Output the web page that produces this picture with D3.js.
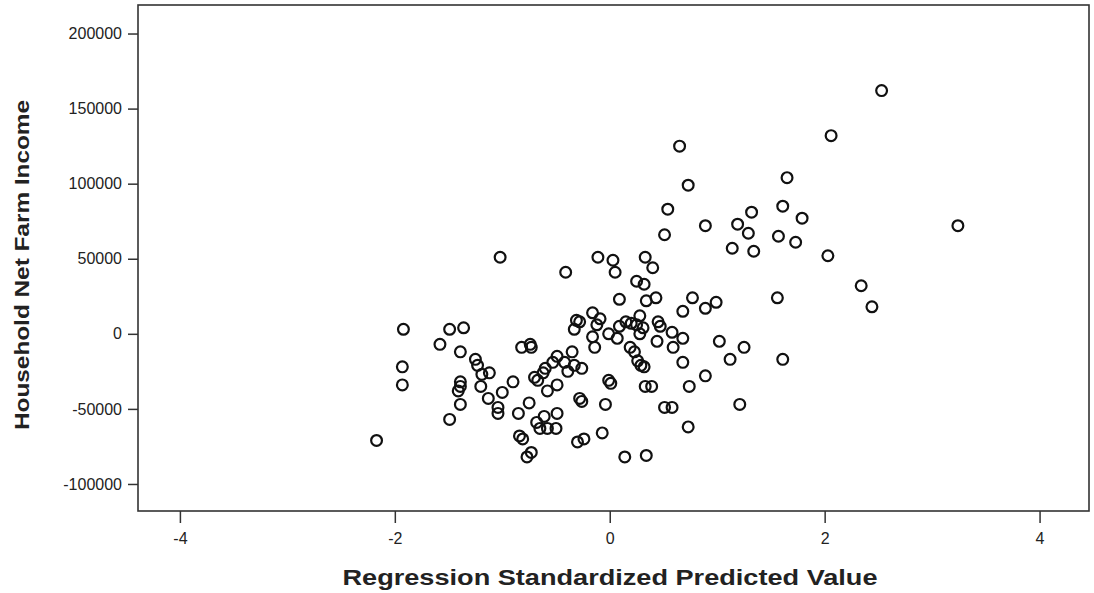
<!DOCTYPE html>
<html lang="en">
<head>
<meta charset="UTF-8">
<title>Scatter</title>
<style>
    body { margin:0; background:#fff; }
    #CHART { display:block; }
    .axis text { font-family: "Liberation Sans", Arial, sans-serif; fill:#222; }
    .axis line { stroke:#333; stroke-width:1.5px; }
    .axis path { display:none; }
    .title { font-family: "Liberation Sans", Arial, sans-serif; font-weight:bold; fill:#222; }
</style>
</head>
<body>
<svg id="CHART" width="1094" height="593"></svg>

<script src="https://cdnjs.cloudflare.com/ajax/libs/d3/7.8.5/d3.min.js"></script>
<script>
    // regression standardized predicted value (x) and household net farm income (y)
    var predicted = [
        -2.17, -1.92, -1.93, -1.93, -1.58, -1.49, -1.36, -1.39, -1.49, -1.39,
        -1.39, -1.39, -1.41, -1.25, -1.23, -1.19, -1.12, -1.20, -1.13, -1.00,
        -1.04, -1.04, -0.90, -1.02, -0.82, -0.74, -0.73, -0.70, -0.62, -0.67,
        -0.60, -0.53, -0.49, -0.42, -0.35, -0.39, -0.33, -0.26, -0.49, -0.58,
        -0.75, -0.85, -0.49, -0.61, -0.68, -0.65, -0.58, -0.50, -0.84, -0.81,
        -0.77, -0.73, -0.41, -0.11, 0.03, 0.05, 0.09, -0.31, -0.28, -0.33,
        -0.16, -0.09, -0.12, -0.16, -0.14, -0.01, 0.09, 0.15, 0.07, 0.19,
        0.23, 0.26, 0.29, 0.32, 0.20, 0.28, 0.25, 0.31, 0.28, 0.45,
        0.47, 0.44, 0.58, 0.59, 0.68, 0.68, 0.74, 0.73, -0.01, 0.01,
        -0.28, -0.26, -0.04, 0.33, 0.39, 0.51, 0.58, -0.07, -0.30, -0.24,
        0.14, 0.34, 0.33, 0.40, 0.25, 0.32, 0.34, 0.43, 0.77, 0.68,
        0.51, 0.54, 0.65, 0.73, 0.89, 1.19, 1.29, 1.14, 1.34, 1.32,
        1.61, 1.79, 1.57, 1.73, 2.03, 2.06, 1.65, 0.99, 0.89, 1.56,
        1.02, 1.25, 1.12, 1.61, 0.89, 1.21, 2.53, 3.24, 2.34, 2.44
    ];
    var income = [
        -71000, 3000, -22000, -34000, -7000, 3000, 4000, -12000, -57000, -47000,
        -32000, -35000, -38000, -17000, -21000, -27000, -26000, -35000, -43000, -39000,
        -49000, -53000, -32000, 51000, -9000, -7000, -9000, -29000, -26000, -31000,
        -23000, -19000, -15000, -19000, -12000, -25000, -21000, -23000, -34000, -38000,
        -46000, -53000, -53000, -55000, -59000, -63000, -63000, -63000, -68000, -70000,
        -82000, -79000, 41000, 51000, 49000, 41000, 23000, 9000, 8000, 3000,
        14000, 10000, 6000, -2000, -9000, 0, 5000, 8000, -3000, -9000,
        -12000, -18000, -21000, -22000, 7000, 12000, 6000, 4000, 0, 8000,
        5000, -5000, 1000, -9000, -3000, -19000, -35000, -62000, -31000, -33000,
        -43000, -45000, -47000, -35000, -35000, -49000, -49000, -66000, -72000, -70000,
        -82000, -81000, 51000, 44000, 35000, 33000, 22000, 24000, 24000, 15000,
        66000, 83000, 125000, 99000, 72000, 73000, 67000, 57000, 55000, 81000,
        85000, 77000, 65000, 61000, 52000, 132000, 104000, 21000, 17000, 24000,
        -5000, -9000, -17000, -17000, -28000, -47000, 162000, 72000, 32000, 18000
    ];

    var xTicks = [-4, -2, 0, 2, 4];
    var yTicks = [-100000, -50000, 0, 50000, 100000, 150000, 200000];

    var xTitle = "Regression Standardized Predicted Value";
    var yTitle = "Household Net Farm Income";

    var chart = {
        left: 138, right: 1089, top: 5, bottom: 511,

        draw: function(){
            var self = this;
            var points = predicted.map(function(d, i){
                return { x: d, y: income[i] };
            });

            var svg = d3.select("#CHART");

            var x = d3.scaleLinear()
                      .domain([-4.39, 4.46])
                      .range([self.left, self.right]);
            var y = d3.scaleLinear()
                      .domain([-118000, 219000])
                      .range([self.bottom, self.top]);

            // plot frame
            svg.append("rect")
                .attr("x", self.left)
                .attr("y", self.top)
                .attr("width", self.right - self.left)
                .attr("height", self.bottom - self.top)
                .attr("fill", "none")
                .attr("stroke", "#333")
                .attr("stroke-width", 1.6);

            var yAxis = svg.append("g")
                .attr("class", "axis y-axis")
                .attr("transform", "translate(" + self.left + ",0)")
                .call(d3.axisLeft(y)
                        .tickValues(yTicks)
                        .tickSize(10)
                        .tickPadding(6)
                        .tickFormat(function(d){ return String(d); }));
            yAxis.selectAll("text").style("font-size", "16px");

            var xAxis = svg.append("g")
                .attr("class", "axis x-axis")
                .attr("transform", "translate(0," + self.bottom + ")")
                .call(d3.axisBottom(x)
                        .tickValues(xTicks)
                        .tickSize(12)
                        .tickPadding(10)
                        .tickFormat(function(d){ return String(d); }));
            xAxis.selectAll("text").style("font-size", "16px");

            // markers
            svg.append("g")
                .selectAll("circle")
                .data(points)
                .join("circle")
                    .attr("cx", function(d){ return x(d.x); })
                    .attr("cy", function(d){ return y(d.y); })
                    .attr("r", 5.4)
                    .attr("fill", "none")
                    .attr("stroke", "#111")
                    .attr("stroke-width", 2.2);

            svg.append("text")
                .attr("class", "title")
                .attr("x", 610)
                .attr("y", 585)
                .attr("text-anchor", "middle")
                .attr("textLength", 535)
                .attr("lengthAdjust", "spacingAndGlyphs")
                .style("font-size", "22px")
                .text(xTitle);

            svg.append("text")
                .attr("class", "title")
                .attr("transform", "translate(29,265) rotate(-90)")
                .attr("text-anchor", "middle")
                .attr("textLength", 330)
                .attr("lengthAdjust", "spacingAndGlyphs")
                .style("font-size", "20px")
                .text(yTitle);
        }
    };

    chart.draw();
</script>
</body>
</html>
